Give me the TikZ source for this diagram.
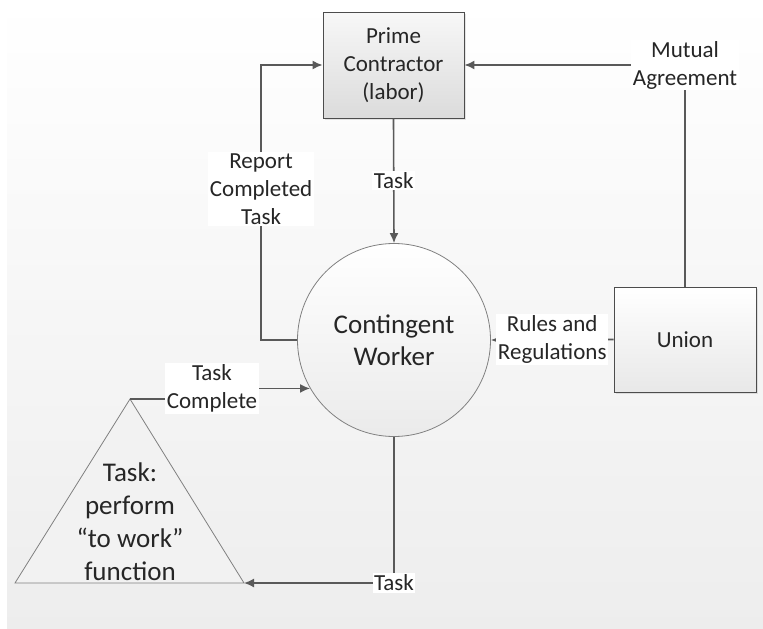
\documentclass[tikz,border=0pt]{standalone}
\usepackage{fontspec}
\setmainfont{Carlito}
\usetikzlibrary{arrows.meta, shadows}
\definecolor{linegray}{HTML}{595959}
\definecolor{edgegray}{HTML}{808080}
\definecolor{txt}{HTML}{262626}

\tikzset{
    conn/.style={draw=linegray, line width=1.6pt, ->, >={Latex[length=10pt,width=9pt]}},
    lbl/.style={fill=white, inner sep=1.5pt, align=center, text=txt, font=\fontsize{23}{28}\selectfont},
    party/.style={rectangle, draw=black!70, line width=0.9pt, align=center, text=txt,
        font=\fontsize{23}{28}\selectfont, drop shadow={opacity=0.2, shadow xshift=2pt, shadow yshift=-2pt}},
    worker/.style={circle, draw=edgegray, line width=0.8pt, inner sep=0pt, minimum size=193pt,
        top color=white, bottom color=black!8, align=center, text=txt, font=\fontsize{27}{32}\selectfont},
}

\begin{document}
\begin{tikzpicture}[x=1pt, y=-1pt]
    \useasboundingbox (0,0) rectangle (763,629);
    \shade[top color=white, bottom color=black!7] (7,0) rectangle (763,629);

    \node[party, top color=black!3, bottom color=black!14, minimum width=141pt, minimum height=106pt]
        (prime) at (393.5,65) {Prime\\Contractor\\(labor)};
    \node[party, top color=white, bottom color=black!9, minimum width=142pt, minimum height=105pt]
        (union) at (685,339.5) {Union};
    \node[worker] (worker) at (394,340) {Contingent\\Worker};

    \coordinate (apex)  at (130,399);
    \coordinate (baseL) at (15,583);
    \coordinate (baseR) at (244,583);
    \filldraw[draw=edgegray, line width=0.8pt, fill=black!5] (baseL) -- (apex) -- (baseR) -- cycle;
    \node[align=center, text=txt, font=\fontsize{27}{33}\selectfont] (func) at (130,522)
        {Task:\\perform\\``to work''\\function};

    \draw[conn] (prime.south) -- (worker.north) node[lbl, midway] {Task};
    \draw[conn] (worker.west) -- ++(-36,0) |- (prime.west) node[lbl, pos=0.275] {Report\\Completed\\Task};
    \draw[conn] (union.north) |- (prime.east) node[lbl, pos=0.5] {Mutual\\Agreement};
    \draw[conn] (union.west) -- (worker.east) node[lbl, midway] {Rules and\\Regulations};
    \draw[conn] (worker.south) |- (baseR) node[lbl, pos=0.5] {Task};
    \draw[conn] (apex) -- ++(82,0) |- (worker.210) node[lbl, pos=0.5] {Task\\Complete};
\end{tikzpicture}
\end{document}
